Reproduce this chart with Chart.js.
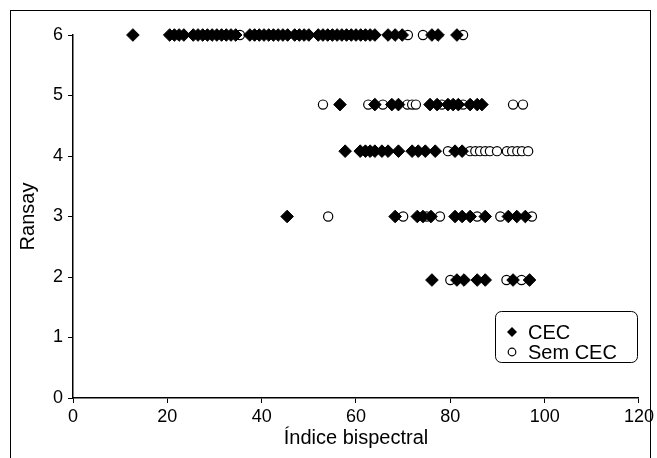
<!DOCTYPE html>
<html>
<head>
<meta charset="utf-8">
<script src="https://cdn.jsdelivr.net/npm/chart.js@4.4.1/dist/chart.umd.min.js"></script>
<style>
  body { margin: 0; background: #fff; }
  #wrap { width: 657px; height: 458px; }
</style>
</head>
<body>
<div id="wrap"><canvas id="scatterChart"></canvas></div>
<script>
// Ransay levels (rows)
const rowLevels = [6, 4.85, 4.08, 3, 1.95];

// BIS values per row, CEC
const cec6 = [12.7, 20.5, 21.5, 22.5, 23.5, 25.5, 26.5, 27.5, 28.5, 29.5, 30.5, 31.5, 32.5, 33.5, 34.5,
  37.5, 38.5, 39.5, 40.5, 41.5, 42.5, 43.5, 44.5, 45.5, 47, 48, 49, 50, 52, 53, 54, 55, 56, 57, 58,
  59, 60, 61, 62, 63, 64, 66.8, 68.3, 69.8, 76.1, 77.4, 81.4];
const cec5 = [56.6, 64, 67.6, 69, 75.7, 77.2, 79.5, 80.6, 81.7, 84.2, 85.7, 86.7];
const cec4 = [57.7, 60.9, 62, 63, 64, 65.5, 66.8, 69, 71.9, 73.2, 74.7, 76.8, 81, 82.5];
const cec3 = [45.4, 68.3, 73, 74.2, 75.9, 81, 82.5, 84.2, 87.4, 92.3, 94.1, 95.9];
const cec2 = [76.1, 81.4, 82.9, 85.7, 87.4, 93.3, 96.8];

// BIS values per row, Sem CEC
const sem6 = [35.4, 71, 74.2, 82.7];
const sem5 = [53, 62.6, 65.7, 70.9, 71.9, 72.7, 78.2, 82.7, 93.3, 95.4];
const sem4 = [79.5, 84.2, 85.3, 86.3, 87.4, 88.4, 89.9, 92, 93.1, 94.2, 95.2, 96.5];
const sem3 = [54.1, 70, 75, 77.8, 85.7, 90.6, 97.3];
const sem2 = [80, 91.9, 95.1];

const xTicks = [0, 20, 40, 60, 80, 100, 120];
const yTicks = [0, 1, 2, 3, 4, 5, 6];

function toPoints(rows) {
  const pts = [];
  rows.forEach(function (xs, i) {
    xs.forEach(function (x) { pts.push({ x: x, y: rowLevels[i] }); });
  });
  return pts;
}

const FONT = "'Liberation Sans', Arial, sans-serif";

const framePlugin = {
  id: "frame",
  beforeDraw: function (chart) {
    const c = chart.ctx;
    c.save();
    c.fillStyle = "#fff";
    c.fillRect(0, 0, chart.width, chart.height);
    c.strokeStyle = "#000";
    c.lineWidth = 1;
    c.strokeRect(10.5, 10.5, 640, 470);
    c.restore();
  }
};

const legendBox = {
  id: "legendBox",
  afterDraw: function (chart) {
    const c = chart.ctx;
    c.save();
    c.strokeStyle = "#000";
    c.lineWidth = 1;
    c.beginPath();
    c.roundRect(495.5, 311.5, 142, 51, 6);
    c.stroke();
    c.fillStyle = "#000";
    c.beginPath();
    c.moveTo(512, 327); c.lineTo(517, 332); c.lineTo(512, 337); c.lineTo(507, 332);
    c.closePath();
    c.fill();
    c.beginPath();
    c.arc(512, 352, 3.8, 0, Math.PI * 2);
    c.fillStyle = "#fff";
    c.fill();
    c.lineWidth = 1.2;
    c.stroke();
    c.fillStyle = "#000";
    c.font = "20px " + FONT;
    c.textBaseline = "middle";
    c.fillText("CEC", 528, 333);
    c.fillText("Sem CEC", 528, 353);
    c.restore();
  }
};

new Chart(document.getElementById("scatterChart").getContext("2d"), {
  type: "scatter",
  data: {
    datasets: [{
      label: "CEC",
      data: toPoints([cec6, cec5, cec4, cec3, cec2]),
      pointStyle: "rectRot",
      pointRadius: 6.3,
      backgroundColor: "#000",
      borderColor: "#000",
      borderWidth: 1,
      clip: false
    }, {
      label: "Sem CEC",
      data: toPoints([sem6, sem5, sem4, sem3, sem2]),
      pointStyle: "circle",
      pointRadius: 4.6,
      backgroundColor: "#fff",
      borderColor: "#000",
      borderWidth: 1.2,
      clip: false
    }]
  },
  options: {
    responsive: true,
    maintainAspectRatio: false,
    animation: false,
    layout: { padding: { left: 10, top: 35, right: 18, bottom: 0 } },
    plugins: {
      legend: { display: false },
      tooltip: { enabled: false }
    },
    scales: {
      x: {
        min: 0, max: 120,
        afterBuildTicks: function (s) { s.ticks = xTicks.map(function (v) { return { value: v }; }); },
        afterFit: function (s) { s.height = 60; },
        grid: { drawOnChartArea: false, drawTicks: true, tickLength: 5, color: "#000" },
        border: { display: true, color: "#000", width: 1.5 },
        ticks: { color: "#000", padding: 3, font: { family: FONT, size: 18 }, maxRotation: 0 },
        title: { display: true, text: "Índice bispectral", color: "#000",
          font: { family: FONT, size: 20 }, padding: { top: 0, bottom: 8 } }
      },
      y: {
        min: 0, max: 6,
        afterBuildTicks: function (s) { s.ticks = yTicks.map(function (v) { return { value: v }; }); },
        afterFit: function (s) { s.width = 63; },
        grid: { drawOnChartArea: false, drawTicks: true, tickLength: 5, color: "#000" },
        border: { display: true, color: "#000", width: 1.5 },
        ticks: { color: "#000", padding: 5, font: { family: FONT, size: 18 } },
        title: { display: true, text: "Ransay", color: "#000",
          font: { family: FONT, size: 20 }, padding: { top: 6, bottom: 0 } }
      }
    }
  },
  plugins: [framePlugin, legendBox]
});
</script>
</body>
</html>
